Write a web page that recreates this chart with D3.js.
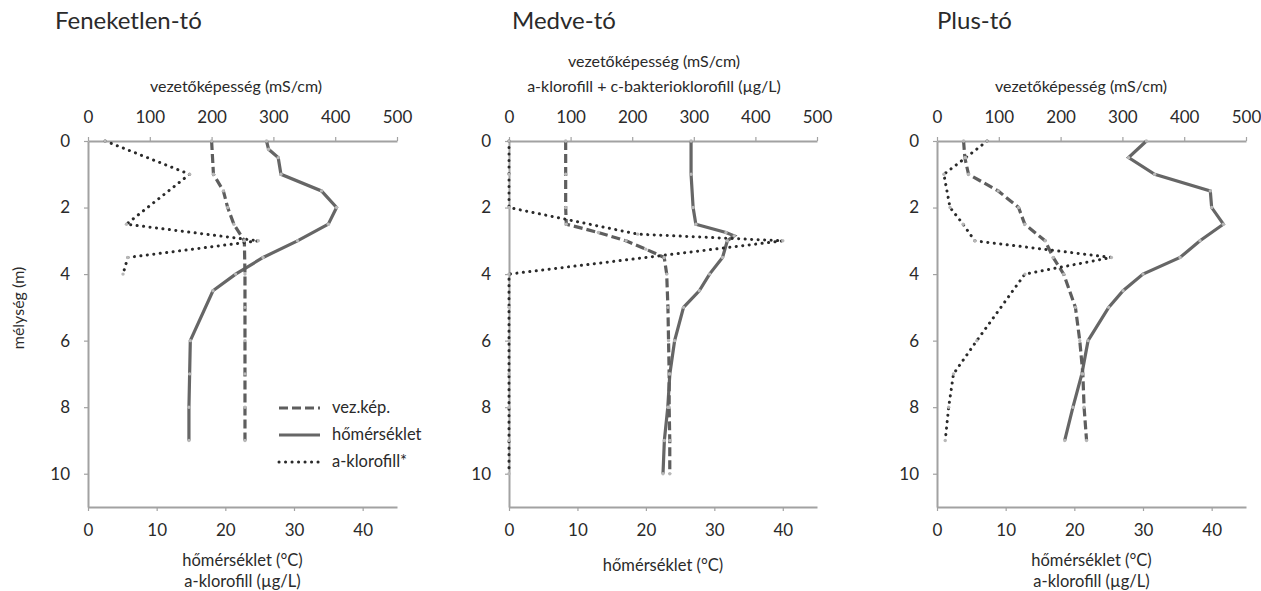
<!DOCTYPE html>
<html><head><meta charset="utf-8">
<script src="https://cdn.jsdelivr.net/npm/d3@7"></script>
<style>
body{margin:0;background:#fff;}
text{font-family:Lato,"Open Sans",sans-serif;fill:#2a2a2a;}
</style></head>
<body>
<svg id="c" width="1261" height="591"></svg>
<script>
// ---- tick labels ----
const depthTicks = [0, 2, 4, 6, 8, 10];
const condTicks = [0, 100, 200, 300, 400, 500];
const tempTicks = [0, 10, 20, 30, 40];

// ---- Feneketlen-tó ----
const fenCondDepth = [0, 1, 1.5, 2, 2.5, 3, 4, 5, 6, 7, 8, 9];
const fenCond      = [200, 203, 219, 226, 236, 253, 254, 254, 254, 254, 254, 254];
const fenTempDepth = [0, 0.25, 0.5, 1, 1.5, 2, 2.5, 3, 3.5, 4, 4.5, 6, 7, 8, 9];
const fenTemp      = [26.0, 26.3, 27.7, 28.1, 34.0, 36.2, 35.0, 30.5, 25.5, 21.5, 18.2, 14.9, 14.8, 14.7, 14.7];
const fenChlDepth  = [0, 1, 2.5, 3, 3.5, 4];
const fenChl       = [2.5, 14.8, 5.6, 24.8, 5.8, 5.1];

// ---- Medve-tó ----
const medCondDepth = [0, 1, 2, 2.5, 2.75, 3, 3.25, 3.5, 4, 5, 6, 7, 8, 9, 10];
const medCond      = [92, 92, 92, 93, 145, 190, 222, 252, 256, 258, 259, 260, 260, 261, 261];
const medTempDepth = [0, 1, 2, 2.5, 2.75, 2.85, 3, 3.5, 4, 4.5, 5, 6, 7, 8, 9, 10];
const medTemp      = [26.6, 26.6, 26.9, 27.3, 31.7, 32.9, 31.9, 31.2, 29.3, 27.8, 25.5, 24.2, 23.5, 23.2, 22.7, 22.5];
const medChlDepth  = [0, 1, 2, 2.8, 3, 4, 5, 6, 7, 8, 9, 10];
const medChl       = [0, 0, 0, 18.8, 40, 0, 0, 0, 0, 0, 0, 0];

// ---- Plus-tó ----
const plusCondDepth = [0, 0.5, 1, 1.5, 2, 2.5, 3, 3.5, 4, 5, 6, 7, 8, 9];
const plusCond      = [43, 45, 51, 99, 132, 142, 175, 188, 205, 224, 231, 236, 238, 242];
const plusTempDepth = [0, 0.5, 1, 1.5, 2, 2.5, 3, 3.5, 4, 4.5, 5, 6, 7, 8, 9];
const plusTemp      = [30.5, 27.9, 31.7, 39.8, 40.0, 41.7, 38.3, 35.4, 30.0, 27.1, 25.0, 22.0, 21.1, 19.8, 18.6];
const plusChlDepth  = [0, 0.5, 1, 2, 2.5, 3, 3.5, 4, 6, 7, 8, 9];
const plusChl       = [7.3, 4.2, 1.0, 1.9, 3.8, 5.5, 25.4, 12.8, 5.8, 2.4, 1.7, 1.2];

const titles = ["Feneketlen-tó", "Medve-tó", "Plus-tó"];
const legendLabels = ["vez.kép.", "hőmérséklet", "a-klorofill*"];

const zip = (d, v) => d.map((dd, i) => ({d: dd, v: v[i]}));

const panels = [
  {title: titles[0], x0: 88, x1: 397, titleX: 55,
   topTitles: ["vezetőképesség (mS/cm)"], topTitleCx: 236,
   botTitles: ["hőmérséklet (°C)", "a-klorofill (µg/L)"], botY: [566, 587],
   cond: zip(fenCondDepth, fenCond), temp: zip(fenTempDepth, fenTemp), chl: zip(fenChlDepth, fenChl)},
  {title: titles[1], x0: 509, x1: 817, titleX: 512,
   topTitles: ["vezetőképesség (mS/cm)", "a-klorofill + c-bakterioklorofill (µg/L)"], topTitleCx: 654,
   botTitles: ["hőmérséklet (°C)"], botY: [571],
   cond: zip(medCondDepth, medCond), temp: zip(medTempDepth, medTemp), chl: zip(medChlDepth, medChl)},
  {title: titles[2], x0: 937, x1: 1246, titleX: 937,
   topTitles: ["vezetőképesség  (mS/cm)"], topTitleCx: 1081,
   botTitles: ["hőmérséklet (°C)", "a-klorofill (µg/L)"], botY: [566, 587],
   cond: zip(plusCondDepth, plusCond), temp: zip(plusTempDepth, plusTemp), chl: zip(plusChlDepth, plusChl)}
];

const svg = d3.select("#c");
const y = d3.scaleLinear().domain([0, 11]).range([141, 507]);
const axisColor = "#a2a2a2";

panels.forEach(p => {
  const xc = d3.scaleLinear().domain([0, 500]).range([p.x0, p.x1]);
  const xt = d3.scaleLinear().domain([0, 45]).range([p.x0, p.x1]);
  const g = svg.append("g");

  g.append("text").attr("x", p.titleX).attr("y", 29).attr("font-size", 24).text(p.title);

  const gt = g.append("g").attr("transform", `translate(0,${y(0)})`)
    .call(d3.axisTop(xc).tickValues(condTicks).tickSize(4).tickPadding(14).tickSizeOuter(0));
  const gb = g.append("g").attr("transform", `translate(0,${y(11)})`)
    .call(d3.axisBottom(xt).tickValues(tempTicks).tickSize(4).tickPadding(13).tickSizeOuter(0));
  const gl = g.append("g").attr("transform", `translate(${p.x0},0)`)
    .call(d3.axisLeft(y).tickValues(depthTicks).tickSize(4).tickPadding(14).tickSizeOuter(0));
  [gt, gb, gl].forEach(a => {
    a.select(".domain").attr("stroke", axisColor).attr("stroke-width", 2);
    a.selectAll(".tick line").attr("stroke", axisColor).attr("stroke-width", 1.2);
    a.selectAll(".tick text").attr("font-family", "Lato, 'Open Sans', sans-serif")
      .attr("font-size", 17).attr("fill", "#2a2a2a");
  });

  const tt = p.topTitles.length;
  p.topTitles.forEach((t, i) => {
    g.append("text").attr("x", p.topTitleCx).attr("y", 92 - (tt - 1 - i) * 25)
      .attr("text-anchor", "middle").attr("font-size", 16).text(t);
  });
  p.botTitles.forEach((t, i) => {
    g.append("text").attr("x", (p.x0 + p.x1) / 2).attr("y", p.botY[i])
      .attr("text-anchor", "middle").attr("font-size", 16.5).text(t);
  });

  const lineC = d3.line().x(d => xc(d.v)).y(d => y(d.d));
  const lineT = d3.line().x(d => xt(d.v)).y(d => y(d.d));

  g.append("path").datum(p.temp).attr("d", lineT)
    .attr("fill", "none").attr("stroke", "#666").attr("stroke-width", 3.2);
  g.append("path").datum(p.cond).attr("d", lineC)
    .attr("fill", "none").attr("stroke", "#5e5e5e").attr("stroke-width", 3.2)
    .attr("stroke-dasharray", "9,4");
  g.append("path").datum(p.chl).attr("d", lineT)
    .attr("fill", "none").attr("stroke", "#2a2a2a").attr("stroke-width", 3)
    .attr("stroke-linecap", "round").attr("stroke-dasharray", "0.1,6.4");

  const mk = (data, sx) => g.append("g").selectAll("circle").data(data).join("circle")
    .attr("cx", d => sx(d.v)).attr("cy", d => y(d.d)).attr("r", 1.7).attr("fill", "#b8b8b8");
  mk(p.temp, xt); mk(p.cond, xc); mk(p.chl, xt);
});

svg.append("text").attr("transform", "translate(24,308) rotate(-90)")
  .attr("text-anchor", "middle").attr("font-size", 16).text("mélység (m)");

const legY = [408, 435, 462];
const legStyles = [
  {dash: "9,4", w: 3.2, c: "#5e5e5e", cap: "butt"},
  {dash: null, w: 3.2, c: "#666", cap: "butt"},
  {dash: "0.1,6.4", w: 3, c: "#2a2a2a", cap: "round"}
];
const leg = svg.append("g");
legendLabels.forEach((t, i) => {
  const s = legStyles[i];
  const l = leg.append("line").attr("x1", 279).attr("x2", 320).attr("y1", legY[i]).attr("y2", legY[i])
    .attr("stroke", s.c).attr("stroke-width", s.w).attr("stroke-linecap", s.cap);
  if (s.dash) l.attr("stroke-dasharray", s.dash);
  leg.append("text").attr("x", 332).attr("y", legY[i] + 5).attr("font-size", 16.5).text(t);
});
</script>
</body></html>
